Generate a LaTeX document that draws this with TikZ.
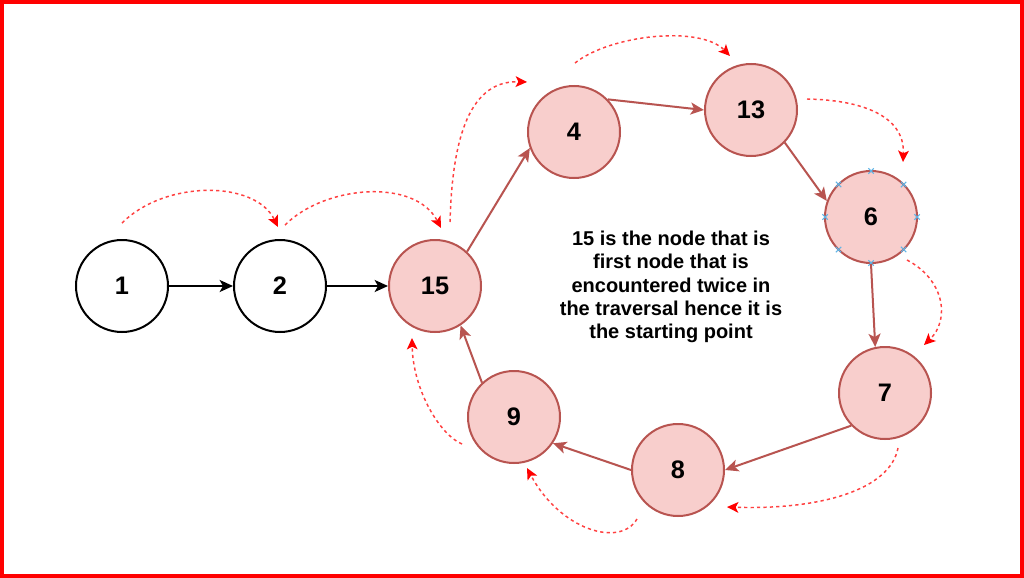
\documentclass[tikz,border=0pt]{standalone}
\usepackage{fontspec}
\setmainfont{Liberation Sans}
\usetikzlibrary{arrows.meta}
\definecolor{pinkfill}{HTML}{F8CECC}
\definecolor{pinkline}{HTML}{B85450}
\definecolor{selblue}{HTML}{5FB4E6}
\definecolor{travred}{HTML}{FF4040}
\tikzset{
  blk/.style={circle, draw=black, fill=white, line width=1.5pt, minimum size=69pt, inner sep=0pt, font=\fontsize{19}{21}\selectfont\bfseries},
  lst/.style={circle, draw=pinkline, fill=pinkfill, line width=1.5pt, minimum size=69pt, inner sep=0pt, font=\fontsize{19}{21}\selectfont\bfseries},
  blkedge/.style={draw=black, line width=1.5pt, -{Stealth[length=10pt,width=9pt,inset=2.5pt]}},
  lstedge/.style={draw=pinkline, line width=1.5pt, -{Stealth[length=10pt,width=9pt,inset=2.5pt]}},
  trav/.style={draw=travred, line width=1.1pt, dash pattern=on 2.4pt off 2.4pt, -{Stealth[length=8.5pt,width=8pt,inset=2pt,color=red]}},
  selmark/.style={draw=selblue, line width=0.8pt},
  note/.style={align=center, font=\fontsize{15}{17.5}\selectfont\bfseries}
}
\begin{document}
\begin{tikzpicture}[x=0.75pt,y=-0.75pt]
\useasboundingbox (0,0) rectangle (1024,578);
\fill[white] (0,0) rectangle (1024,578);
\draw[red, line width=2.7pt] (1.8,1.8) rectangle (1022.2,576.2);

% nodes
\node[blk] (n1) at (122,286) {1};
\node[blk] (n2) at (280,286) {2};
\node[lst] (n15) at (435,286) {15};
\node[lst] (n4) at (574,132) {4};
\node[lst] (n13) at (751,110) {13};
\node[lst] (n6) at (871,217) {6};
\node[lst] (n7) at (885,393) {7};
\node[lst] (n8) at (678,470) {8};
\node[lst] (n9) at (514,417) {9};

\node[note] (txt) at (671,287) {15 is the node that is\\first node that is\\encountered twice in\\the traversal hence it is\\the starting point};

% selection markers on node 6
\foreach \a in {0,45,...,315}{
  \draw[selmark] ([shift={(\a:34.5pt)}]n6.center) +(-2pt,-2pt) -- +(2pt,2pt) +(-2pt,2pt) -- +(2pt,-2pt);
}

% list edges
\draw[blkedge] (n1.east) -- (n2.west);
\draw[blkedge] (n2.east) -- (n15.west);
\draw[lstedge] (n15.47) -- (n4.200);
\draw[lstedge] (n4.44) -- (n13.west);
\draw[lstedge] (n13.-44) -- (n6.160);
\draw[lstedge] (n6.south) -- (n7.102);
\draw[lstedge] (n7.224) -- (n8.east);
\draw[lstedge] (n8.west) -- (n9.-34);
\draw[lstedge] (n9.133) -- (n15.-57);

% traversal coordinates
\coordinate (a1s) at (122,223); \coordinate (a1e) at (278,227);
\coordinate (a2s) at (285,225); \coordinate (a2e) at (441,228);
\coordinate (a3s) at (450,222); \coordinate (a3e) at (527,82);
\coordinate (a4s) at (575,63);  \coordinate (a4e) at (730,56);
\coordinate (a5s) at (807,99);  \coordinate (a5e) at (903,162);
\coordinate (a6s) at (907,260); \coordinate (a6e) at (924,345);
\coordinate (a7s) at (898,448); \coordinate (a7e) at (727,507);
\coordinate (a8s) at (637,519); \coordinate (a8e) at (527,468);
\coordinate (a9s) at (462,444); \coordinate (a9e) at (412,338);

\draw[trav] (a1s) .. controls (165,180) and (255,180) .. (a1e);
\draw[trav] (a2s) .. controls (325,185) and (415,178) .. (a2e);
\draw[trav] (a3s) .. controls (452,150) and (465,80) .. (a3e);
\draw[trav] (a4s) .. controls (610,35) and (700,25) .. (a4e);
\draw[trav] (a5s) .. controls (860,100) and (905,115) .. (a5e);
\draw[trav] (a6s) .. controls (945,280) and (950,320) .. (a6e);
\draw[trav] (a7s) .. controls (890,490) and (820,510) .. (a7e);
\draw[trav] (a8s) .. controls (620,548) and (560,530) .. (a8e);
\draw[trav] (a9s) .. controls (440,435) and (413,390) .. (a9e);
\end{tikzpicture}
\end{document}
